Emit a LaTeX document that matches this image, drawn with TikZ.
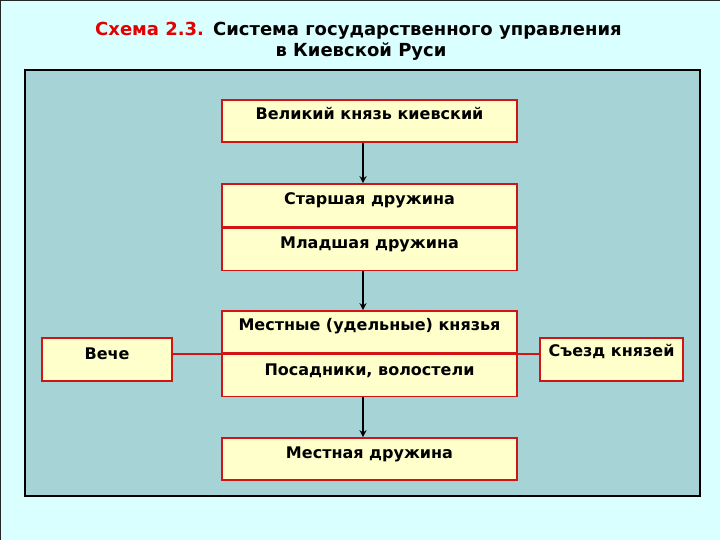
\documentclass[tikz,border=0pt]{standalone}
\usepackage{fontspec}
\setmainfont{DejaVu Sans}
\usetikzlibrary{arrows.meta,positioning}
\definecolor{slidebg}{RGB}{217,255,255}
\definecolor{panelbg}{RGB}{166,212,214}
\definecolor{boxfill}{RGB}{255,255,204}
\definecolor{boxline}{RGB}{210,20,20}
\definecolor{titlered}{RGB}{226,0,0}
\begin{document}
\begin{tikzpicture}[x=1pt,y=-1pt,
 box/.style={draw=boxline,fill=boxfill,line width=1.6pt,inner sep=0pt,minimum width=295pt,text height=20pt,text depth=22pt,font=\bfseries\fontsize{16}{18}\selectfont},
 sidebox/.style={box,minimum width=130pt},
 arr/.style={line width=1.8pt,-{Stealth[length=7pt,width=7pt]}},
 link/.style={draw=boxline,line width=1.6pt}]
 \useasboundingbox(0,0)rectangle(720,540);
 \fill[slidebg](0,0)rectangle(720,540);
 \draw[line width=1.5pt,black!85](0,540)--(0,0)--(720,0);
 \draw[fill=panelbg,line width=1.4pt](25,70)rectangle(700,496);
 % title
 \node[anchor=base west,inner sep=0pt,font=\bfseries\fontsize{18}{20}\selectfont](title1)at(95,36){\textcolor{titlered}{Схема 2.3.}\hspace{9pt}Система государственного управления};
 \node[anchor=base,inner sep=0pt,font=\bfseries\fontsize{18}{20}\selectfont](title2)at(361,57){в Киевской Руси};
 % main column
 \node[box](velik)at(369.5,121){Великий князь киевский};
 \node[box,text height=20.5pt,text depth=22.5pt](starsh)at(369.5,205.5){Старшая дружина};
 \node[box,text height=19.5pt,text depth=22.5pt,below=0pt of starsh](mladsh){Младшая дружина};
 \node[box,text height=19.5pt,text depth=22.5pt](mestkn)at(369.5,332){Местные (удельные) князья};
 \node[box,text height=20.5pt,text depth=21.5pt,below=0pt of mestkn](posadn){Посадники, волостели};
 \node[box](mestdr)at(369.5,459){Местная дружина};
 % side boxes
 \node[sidebox,text height=21pt,text depth=22pt](veche)at(107,359.5){Вече};
 \node[sidebox,minimum width=143pt,text height=18pt,text depth=25pt](sjezd)at(611.5,359.5){Съезд князей};
 % connectors
 \draw[arr]([xshift=-6.5pt]velik.south)--([xshift=-6.5pt]starsh.north);
 \draw[arr]([xshift=-6.5pt]mladsh.south)--([xshift=-6.5pt]mestkn.north);
 \draw[arr]([xshift=-6.5pt]posadn.south)--([xshift=-6.5pt]mestdr.north);
 \draw[link](veche.east|-mestkn.south west)--(mestkn.south west);
 \draw[link](mestkn.south east)--(sjezd.west|-mestkn.south east);
\end{tikzpicture}
\end{document}
